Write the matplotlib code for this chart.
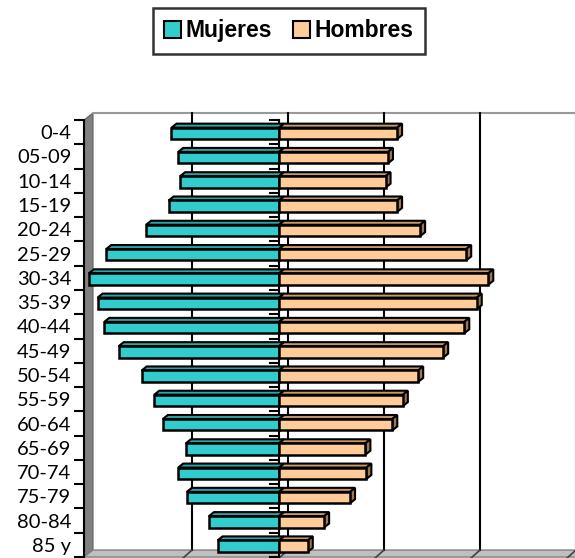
import matplotlib
matplotlib.use("Agg")
import matplotlib.pyplot as plt
from matplotlib.patches import Polygon, Patch

# ---------------- data ----------------
age_groups = ["0-4", "05-09", "10-14", "15-19", "20-24", "25-29", "30-34", "35-39",
              "40-44", "45-49", "50-54", "55-59", "60-64", "65-69", "70-74", "75-79",
              "80-84", "85 y"]
mujeres = [1.12, 1.05, 1.03, 1.15, 1.385, 1.80, 1.98, 1.89, 1.82, 1.67, 1.43, 1.30,
           1.21, 0.97, 1.05, 0.96, 0.73, 0.64]
hombres = [1.23, 1.135, 1.11, 1.23, 1.47, 1.95, 2.18, 2.06, 1.93, 1.71, 1.45, 1.29,
           1.18, 0.90, 0.91, 0.74, 0.47, 0.30]
series_names = ["Mujeres", "Hombres"]
grid_values = [-1, 0, 1, 2, 3]

# ---------------- layout (pixels) ----------------
W, H = 575, 558
PX_X = 96.0          # pixels per x unit
PX_Y = 24.28         # pixels per category
ZERO_PX = 279        # x pixel of zero (front)
CAT_TOP_PX = 120     # y pixel of first category boundary
L, R, T, B = 84, 575, 108, 558

n = len(age_groups)
xlim = ((L - ZERO_PX) / PX_X, (R - ZERO_PX) / PX_X)
ylim = (-0.5 + (B - CAT_TOP_PX) / PX_Y, -0.5 - (CAT_TOP_PX - T) / PX_Y)

def dxu(px):
    return px / PX_X

def dyu(px):
    return px / PX_Y

c_muj = "#33CCCC"
c_muj_top = "#2AA6A6"
c_hom = "#FFCC99"
c_hom_top = "#C89A6A"
c_hom_side = "#A07850"

fig = plt.figure(figsize=(W / 100, H / 100), dpi=100)
ax = fig.add_axes([L / W, 1 - B / H, (R - L) / W, (B - T) / H])
ax.set_xlim(*xlim)
ax.set_ylim(*ylim)
for s in ["top", "right", "bottom"]:
    ax.spines[s].set_visible(False)
ax.spines["left"].set_bounds(-0.5, n - 0.5)
ax.spines["left"].set_linewidth(1.5)

# wall depth
wdx, wdy = dxu(9), dyu(7)
y_front_top, y_front_bot = -0.5, n - 0.5
xl = xlim[0]

# left wall
ax.add_patch(Polygon([(xl, y_front_top), (xl + wdx, y_front_top - wdy),
                      (xl + wdx, y_front_bot - wdy), (xl, y_front_bot)],
                     closed=True, facecolor="#808080", edgecolor="#606060",
                     lw=0.8, zorder=1, clip_on=False))
# floor
ax.add_patch(Polygon([(xl, y_front_bot), (xl + wdx, y_front_bot - wdy),
                      (xlim[1] + wdx, y_front_bot - wdy), (xlim[1], y_front_bot)],
                     closed=True, facecolor="#C0C0C0", edgecolor="#808080",
                     lw=1.0, zorder=1, clip_on=False))
# back wall top edge
ax.plot([xl + wdx, xlim[1] + 1], [y_front_top - wdy, y_front_top - wdy],
        color="#999999", lw=1.5, zorder=1)

# gridlines on back wall
for g in grid_values:
    ax.plot([g + wdx, g + wdx], [y_front_top - wdy, y_front_bot - wdy],
            color="black", lw=1.5, zorder=1.5)
    ax.plot([g, g + wdx], [y_front_bot + dyu(1), y_front_bot - wdy],
            color="#404040", lw=1.2, zorder=1.5, clip_on=False)

# zero axis and center ticks
ax.plot([0, 0], [y_front_top, y_front_bot], color="black", lw=1.5, zorder=2)
for k in range(n + 1):
    ax.plot([-dxu(9), 0], [k - 0.5, k - 0.5], color="black", lw=1.5, zorder=2)

# bars
bh = 0.47
bdx, bdy = dxu(5), dyu(4)
for i in range(n):
    yt = i - bh / 2 + 0.05
    yb = i + bh / 2 + 0.05
    # Mujeres
    m = -mujeres[i]
    ax.add_patch(Polygon([(m, yt), (0, yt), (bdx, yt - bdy), (m + bdx, yt - bdy)],
                         closed=True, facecolor=c_muj_top, edgecolor="black",
                         lw=1.5, zorder=3))
    ax.barh(i + 0.05, m, height=bh, left=0, color=c_muj, edgecolor="black",
            linewidth=1.8, zorder=4)
    # Hombres
    h = hombres[i]
    ax.add_patch(Polygon([(0, yt), (h, yt), (h + bdx, yt - bdy), (bdx, yt - bdy)],
                         closed=True, facecolor=c_hom_top, edgecolor="black",
                         lw=1.5, zorder=3))
    ax.add_patch(Polygon([(h, yt), (h + bdx, yt - bdy), (h + bdx, yb - bdy), (h, yb)],
                         closed=True, facecolor=c_hom_side, edgecolor="black",
                         lw=1.5, zorder=3))
    ax.barh(i + 0.05, h, height=bh, left=0, color=c_hom, edgecolor="black",
            linewidth=1.8, zorder=4)

# y ticks
ax.set_yticks(range(n))
ax.set_yticklabels(age_groups, fontfamily="Lato", fontsize=14.5)
ax.tick_params(axis="y", which="major", length=0, pad=9)
ax.set_yticks([k - 0.5 for k in range(n + 1)], minor=True)
ax.tick_params(axis="y", which="minor", length=7, width=1.5, direction="out")
ax.set_xticks([])

# legend
handles = [Patch(facecolor=c_muj, edgecolor="black", lw=1.5),
           Patch(facecolor=c_hom, edgecolor="black", lw=1.5)]
leg = fig.legend(handles, series_names, loc="upper center", ncol=2,
                 bbox_to_anchor=(289 / W, 1 - 8 / H),
                 prop={"family": "Liberation Sans", "weight": "bold", "size": 16.5},
                 frameon=True, fancybox=False, handlelength=0.75, handleheight=0.75,
                 handletextpad=0.2, columnspacing=0.9, borderpad=0.5,
                 borderaxespad=0)
leg.get_frame().set_edgecolor("black")
leg.get_frame().set_linewidth(1.8)

fig.savefig("out.png", dpi=100)
